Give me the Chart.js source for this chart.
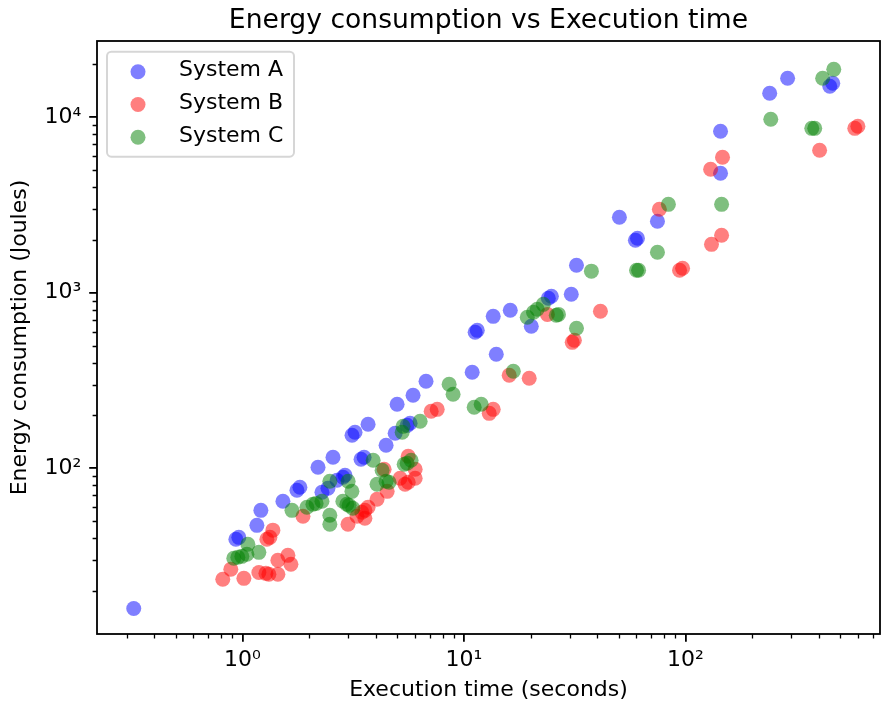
<!DOCTYPE html>
<html>
<head>
<meta charset="utf-8">
<title>Energy consumption vs Execution time</title>
<script src="https://cdn.jsdelivr.net/npm/chart.js@4.4.1/dist/chart.umd.min.js"></script>
<style>
  html, body { margin: 0; padding: 0; background: #fff; }
  #wrap { width: 882px; height: 707px; }
</style>
</head>
<body>
<div id="wrap"><canvas id="energyChart"></canvas></div>
<script>
// Series names and colours
const chartTitle = 'Energy consumption vs Execution time';
const seriesNames = ['System A', 'System B', 'System C'];
const seriesColors = ['rgba(0,0,255,0.5)', 'rgba(255,0,0,0.5)', 'rgba(0,128,0,0.5)'];

// System A : execution time (s) / energy (J)
const timeA = [0.323, 0.934, 0.963, 1.162, 1.211, 1.523, 1.762, 1.817, 2.193, 2.563, 2.285, 2.432,
  2.673, 2.844, 2.904, 3.123, 3.222, 3.69, 3.43, 3.54, 4.45, 4.89, 5.54, 5.71, 4.99, 5.89, 6.74,
  10.89, 13.99, 11.23, 11.48, 13.55, 16.18, 20.13, 24.03, 24.8, 30.5, 32.2, 50.3, 59.4, 60.7, 74.7,
  143.9, 143.9, 239.9, 289, 448, 462];
const energyA = [15.9, 39.4, 40.4, 47.3, 57.6, 64.9, 75.0, 77.9, 101.3, 115.5, 73.0, 76.9,
  85.4, 88.9, 91.2, 154.2, 160.3, 178.2, 112.5, 115.5, 135.2, 158.2, 175.6, 180.4, 231.6, 260.8, 313.3,
  352.6, 446.3, 596, 611, 734, 795, 644, 930, 955, 980, 1435, 2692, 1991, 2045, 2555,
  8320, 4797, 13710, 16670, 15030, 15630];

// System B
const timeB = [0.815, 0.886, 1.015, 1.186, 1.276, 1.316, 1.445, 1.445, 1.604, 1.655, 1.289, 1.330,
  1.372, 1.876, 2.995, 3.29, 3.57, 3.46, 3.57, 3.69, 4.05, 4.50, 4.36, 5.15, 5.42, 5.60, 6.02,
  5.60, 6.02, 7.11, 7.57, 13.0, 13.55, 16.0, 19.7, 23.8, 30.8, 31.5, 41.3, 76.2, 94.0, 97.0,
  129.8, 146.9, 131, 145.5, 403, 581, 600];
const energyB = [23.3, 26.6, 23.6, 25.5, 25.2, 24.9, 24.9, 29.9, 31.9, 28.4, 39.4, 40.4,
  44.4, 53.3, 48.0, 53.3, 51.9, 56.2, 57.6, 60.0, 66.6, 73.9, 98.7, 87.7, 81.1, 83.3, 87.7,
  117.0, 98.7, 211.2, 216.7, 205.6, 216.7, 338.6, 325.7, 753, 522, 536, 785, 2992, 1343, 1380,
  5058, 5918, 1888, 2128, 6490, 8650, 8890];

// System C
const timeC = [0.953, 0.914, 0.994, 1.047, 1.058, 1.186, 1.673, 1.954, 2.08, 2.15, 2.285, 2.48,
  2.48, 2.48, 2.84, 2.96, 3.03, 3.15, 3.0, 3.12, 3.89, 4.27, 4.45, 4.59, 4.05, 5.37, 5.54,
  5.77, 5.26, 5.31, 6.34, 8.57, 8.93, 11.12, 11.96, 16.7, 19.3, 20.6, 21.4, 22.8, 26.1, 26.7,
  32.2, 37.6, 60.1, 61.4, 74.7, 83.7, 145.5, 242.6, 371.5, 383, 416, 467];
const energyC = [31.1, 30.7, 31.5, 32.4, 36.9, 33.2, 57.6, 60.0, 62.4, 63.1, 64.9, 54.0,
  48.0, 84.3, 64.9, 62.4, 61.5, 59.2, 84.3, 73.9, 111.1, 97.4, 84.3, 83.3, 81.1, 105.4, 106.8,
  111.1, 160.3, 173.4, 185.3, 301, 264, 222.8, 231.6, 357, 725, 774, 805, 859, 745, 753,
  628, 1328, 1343, 1343, 1701, 3190, 3190, 9750, 8650, 8650, 16670, 18750];

// Axis ticks (powers of ten) and limits
const xMajorTicks = [1, 10, 100];
const yMajorTicks = [100, 1000, 10000];
const xRange = [0.2205, 755];
const yRange = [11.37, 27200];

const FONT = "'DejaVu Sans', 'Liberation Sans', sans-serif";
const SUP = {'0': '\u2070', '1': '\u00b9', '2': '\u00b2', '3': '\u00b3', '4': '\u2074', '5': '\u2075'};

function powLabel(v) {
  const e = Math.round(Math.log10(v));
  return '10' + String(e).split('').map(c => SUP[c] || c).join('');
}

// minor ticks 2..9 for every decade inside a range
function minorTicks(min, max) {
  const out = [];
  for (let e = Math.floor(Math.log10(min)); e <= Math.ceil(Math.log10(max)); e++) {
    for (let m = 2; m <= 9; m++) {
      const v = m * Math.pow(10, e);
      if (v >= min && v <= max) out.push(v);
    }
  }
  return out;
}

function toPoints(xs, ys) {
  return xs.map((x, i) => ({ x: x, y: ys[i] }));
}

// Title over the plot area, frame, minor ticks and legend (matplotlib look)
const extrasPlugin = {
  id: 'extras',
  afterDraw(chart) {
    const ctx = chart.ctx;
    const area = chart.chartArea;
    const xs = chart.scales.x, ys = chart.scales.y;
    ctx.save();

    // title centred over the axes
    ctx.fillStyle = '#000';
    ctx.font = '26.6px ' + FONT;
    ctx.textAlign = 'center';
    ctx.textBaseline = 'alphabetic';
    ctx.fillText(chartTitle, (area.left + area.right) / 2, area.top - 13);

    // minor ticks
    ctx.strokeStyle = '#000';
    ctx.lineWidth = 1.3;
    ctx.beginPath();
    minorTicks(xRange[0], xRange[1]).forEach(v => {
      const p = Math.round(xs.getPixelForValue(v)) + 0.5;
      ctx.moveTo(p, area.bottom);
      ctx.lineTo(p, area.bottom + 4.4);
    });
    minorTicks(yRange[0], yRange[1]).forEach(v => {
      const p = Math.round(ys.getPixelForValue(v)) + 0.5;
      ctx.moveTo(area.left, p);
      ctx.lineTo(area.left - 4.4, p);
    });
    ctx.stroke();

    // frame
    ctx.lineWidth = 1.8;
    ctx.strokeRect(area.left, area.top, area.right - area.left, area.bottom - area.top);

    // legend box
    const lx = area.left + 10, ly = area.top + 10.7, lw = 187, lh = 105;
    ctx.beginPath();
    ctx.roundRect(lx, ly, lw, lh, 4.4);
    ctx.fillStyle = 'rgba(255,255,255,0.8)';
    ctx.fill();
    ctx.strokeStyle = 'rgba(204,204,204,0.8)';
    ctx.lineWidth = 2;
    ctx.stroke();

    ctx.font = '22px ' + FONT;
    ctx.textBaseline = 'middle';
    ctx.textAlign = 'left';
    seriesNames.forEach((name, i) => {
      const cy = ly + 20 + i * 32.8;
      ctx.beginPath();
      ctx.arc(lx + 31, cy, 7.5, 0, Math.PI * 2);
      ctx.fillStyle = seriesColors[i];
      ctx.fill();
      ctx.fillStyle = '#000';
      ctx.fillText(name, lx + 72, cy - 1);
    });
    ctx.restore();
  }
};

const ctx = document.getElementById('energyChart').getContext('2d');
const energyChart = new Chart(ctx, {
  type: 'scatter',
  data: {
    datasets: [
      { label: seriesNames[0], data: toPoints(timeA, energyA), backgroundColor: seriesColors[0], order: 3 },
      { label: seriesNames[1], data: toPoints(timeB, energyB), backgroundColor: seriesColors[1], order: 2 },
      { label: seriesNames[2], data: toPoints(timeC, energyC), backgroundColor: seriesColors[2], order: 1 }
    ]
  },
  options: {
    responsive: true,
    maintainAspectRatio: false,
    animation: false,
    events: [],
    layout: { autoPadding: false, padding: { left: 0, right: 2, top: 41, bottom: 0 } },
    elements: { point: { radius: 7.5, hoverRadius: 7.5, borderWidth: 0 } },
    plugins: {
      legend: { display: false },
      tooltip: { enabled: false },
      title: { display: false }
    },
    scales: {
      x: {
        type: 'logarithmic',
        min: xRange[0],
        max: xRange[1],
        afterBuildTicks: (scale) => { scale.ticks = xMajorTicks.map(v => ({ value: v })); },
        afterFit: (scale) => { scale.height = 73; },
        border: { display: false },
        grid: { drawOnChartArea: false, drawTicks: true, tickLength: 7.8, lineWidth: 1.8, color: '#000' },
        ticks: {
          autoSkip: false, maxRotation: 0, padding: 5, color: '#000',
          font: { family: FONT, size: 22 },
          callback: (v) => powLabel(v)
        },
        title: {
          display: true, text: 'Execution time (seconds)', color: '#000',
          font: { family: FONT, size: 22 }, padding: { top: 0, bottom: 3.4 }
        }
      },
      y: {
        type: 'logarithmic',
        min: yRange[0],
        max: yRange[1],
        afterBuildTicks: (scale) => { scale.ticks = yMajorTicks.map(v => ({ value: v })); },
        afterFit: (scale) => { scale.width = 97; },
        border: { display: false },
        grid: { drawOnChartArea: false, drawTicks: true, tickLength: 7.8, lineWidth: 1.8, color: '#000' },
        ticks: {
          autoSkip: false, padding: 8, color: '#000',
          font: { family: FONT, size: 22 },
          callback: (v) => powLabel(v)
        },
        title: {
          display: true, text: 'Energy consumption (Joules)', color: '#000',
          font: { family: FONT, size: 22 }, padding: { top: 6.8, bottom: 0 }
        }
      }
    }
  },
  plugins: [extrasPlugin]
});
</script>
</body>
</html>
